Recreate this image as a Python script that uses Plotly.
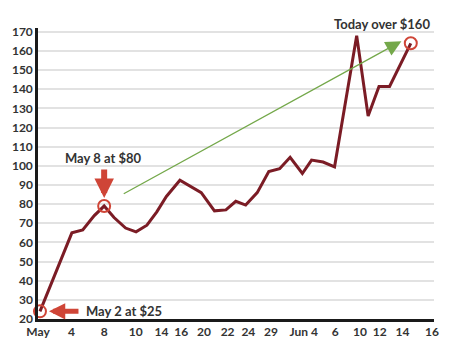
import plotly.graph_objects as go

# ---- data (positions along the horizontal axis) ----
x_pos = [0.2, 3.43, 4.53, 5.7, 6.7, 7.7, 8.87, 9.93, 11.03, 12.03, 13.0,
         14.37, 16.53, 17.87, 19.03, 20.03, 21.03, 22.2, 23.37, 24.47, 25.53,
         26.77, 27.7, 28.87, 30.03, 32.27, 33.43, 34.53, 35.6, 37.75]
prices = [24, 65, 66.5, 74, 79, 73, 67.5, 65.5, 69, 76, 84,
          92.5, 86, 76.5, 77, 81.5, 79.5, 86, 97, 98.5, 104.5,
          96, 103, 102, 99.5, 168, 126, 141.5, 141.5, 164]

tick_pos = [0, 3.4, 6.7, 9.9, 12.5, 14.5, 16.8, 19.2, 21.3, 23.6, 26.9,
            30.1, 32.6, 34.6, 36.9, 39.9]
tick_labels = ["May", "4", "8", "10", "14", "16", "20", "22", "24", "29",
               "Jun 4", "6", "10", "12", "14", "16"]

highlight_idx = [0, 4, len(prices) - 1]
trend_start = (8.53, 85)
trend_end = (36.8, 165.1)

LINE = "#7b1c25"
RED = "#cf4537"
GREEN = "#74a84a"
TXT = "#333333"
FONT = "Lato"

fig = go.Figure()
fig.add_trace(go.Scatter(x=x_pos, y=prices, mode="lines",
                         line=dict(color=LINE, width=3),
                         hoverinfo="skip", showlegend=False))
fig.add_trace(go.Scatter(x=[x_pos[i] for i in highlight_idx],
                         y=[prices[i] for i in highlight_idx],
                         mode="markers", cliponaxis=False,
                         marker=dict(size=12, color="rgba(0,0,0,0)",
                                     line=dict(color=RED, width=2)),
                         hoverinfo="skip", showlegend=False))

annotations = []
# green trend arrow
annotations.append(dict(x=trend_end[0], y=trend_end[1], ax=trend_start[0], ay=trend_start[1],
                        xref="x", yref="y", axref="x", ayref="y", text="",
                        showarrow=True, arrowhead=2, arrowsize=2.4, arrowwidth=1.3,
                        arrowcolor=GREEN))
# red arrow down to May 8
i8 = highlight_idx[1]
annotations.append(dict(x=x_pos[i8], y=prices[i8], ax=0, ay=-38, text="",
                        showarrow=True, arrowhead=2, arrowsize=0.65, arrowwidth=6,
                        arrowcolor=RED, standoff=8))
annotations.append(dict(x=x_pos[i8], y=prices[i8], text="<b>May 8 at $80</b>",
                        showarrow=False, yshift=48, xshift=-1,
                        font=dict(family=FONT, size=13, color=TXT)))
# red arrow left to May 2
i2 = highlight_idx[0]
annotations.append(dict(x=x_pos[i2], y=prices[i2], ax=40, ay=0, text="",
                        showarrow=True, arrowhead=2, arrowsize=0.65, arrowwidth=5,
                        arrowcolor=RED, standoff=9))
annotations.append(dict(x=x_pos[i2], y=prices[i2], text="<b>May 2 at $25</b>",
                        showarrow=False, xanchor="left", xshift=44, yshift=0,
                        font=dict(family=FONT, size=13, color=TXT)))
# today label
il = highlight_idx[2]
annotations.append(dict(x=x_pos[il], y=prices[il], text="<b>Today over $160</b>",
                        showarrow=False, xshift=-29, yshift=19,
                        font=dict(family=FONT, size=13, color=TXT)))

fig.update_layout(
    width=450, height=351,
    margin=dict(l=38, r=11, t=28, b=32),
    paper_bgcolor="white", plot_bgcolor="white",
    annotations=annotations,
    xaxis=dict(range=[0, 40.1], tickmode="array", tickvals=tick_pos, ticktext=tick_labels,
               showgrid=False, zeroline=False, showline=True, linecolor="#1a1a1a",
               linewidth=2.5, ticks="", fixedrange=True,
               tickfont=dict(family=FONT, size=12, color=TXT, weight="bold")),
    yaxis=dict(range=[20, 172], tick0=20, dtick=10, showgrid=True, gridcolor="#e2e2e2",
               gridwidth=1.5, zeroline=False, showline=True, linecolor="#1a1a1a",
               linewidth=2.5, ticks="", fixedrange=True,
               tickfont=dict(family=FONT, size=12, color=TXT, weight="bold")),
)

fig.write_html("out.html")
